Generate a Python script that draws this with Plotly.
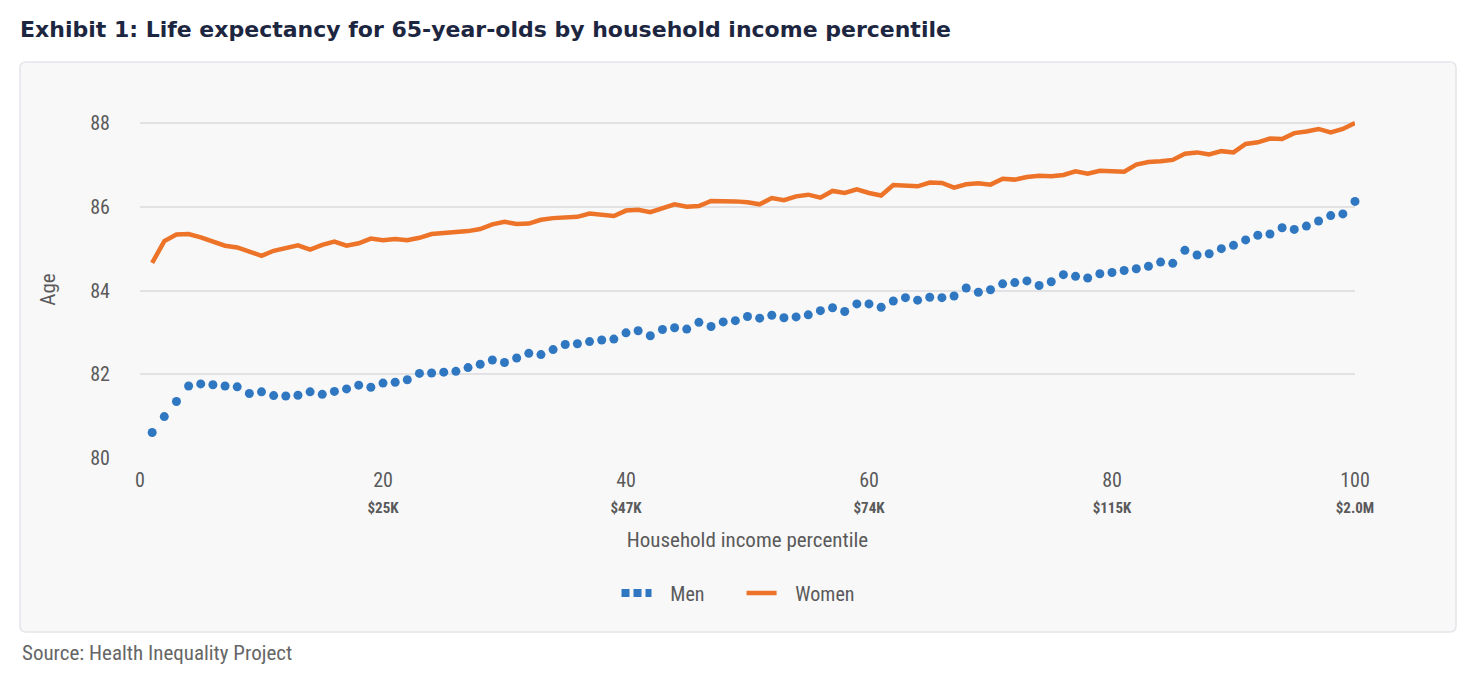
import plotly.graph_objects as go

# ---------------- data ----------------
percentile = list(range(1, 101))

men_age = [
    80.61, 80.99, 81.35, 81.72, 81.77, 81.75, 81.72, 81.70, 81.54, 81.58,
    81.49, 81.48, 81.50, 81.58, 81.52, 81.59, 81.65, 81.74, 81.69, 81.79,
    81.81, 81.87, 82.02, 82.03, 82.05, 82.07, 82.16, 82.24, 82.34, 82.28,
    82.39, 82.50, 82.47, 82.59, 82.71, 82.73, 82.78, 82.82, 82.84, 82.99,
    83.04, 82.92, 83.07, 83.11, 83.08, 83.24, 83.14, 83.25, 83.28, 83.38,
    83.34, 83.41, 83.35, 83.37, 83.42, 83.52, 83.59, 83.50, 83.68, 83.68,
    83.60, 83.75, 83.83, 83.77, 83.84, 83.83, 83.87, 84.06, 83.96, 84.02,
    84.16, 84.19, 84.23, 84.12, 84.21, 84.38, 84.34, 84.30, 84.40, 84.43,
    84.48, 84.52, 84.58, 84.68, 84.65, 84.96, 84.85, 84.88, 85.00, 85.08,
    85.21, 85.32, 85.35, 85.50, 85.46, 85.54, 85.66, 85.79, 85.83, 86.13,
]

women_age = [
    84.66, 85.18, 85.34, 85.35, 85.27, 85.17, 85.07, 85.03, 84.92, 84.83,
    84.95, 85.01, 85.08, 84.98, 85.09, 85.17, 85.07, 85.13, 85.24, 85.20,
    85.23, 85.20, 85.26, 85.35, 85.37, 85.39, 85.42, 85.47, 85.58, 85.64,
    85.59, 85.60, 85.69, 85.73, 85.75, 85.76, 85.84, 85.81, 85.78, 85.91,
    85.93, 85.87, 85.97, 86.06, 86.00, 86.02, 86.14, 86.14, 86.13, 86.11,
    86.06, 86.21, 86.16, 86.25, 86.29, 86.22, 86.38, 86.33, 86.42, 86.33,
    86.27, 86.52, 86.50, 86.49, 86.58, 86.57, 86.46, 86.54, 86.56, 86.53,
    86.67, 86.65, 86.71, 86.74, 86.73, 86.76, 86.85, 86.79, 86.86, 86.85,
    86.84, 87.01, 87.07, 87.09, 87.12, 87.27, 87.30, 87.25, 87.33, 87.30,
    87.50, 87.54, 87.63, 87.62, 87.76, 87.80, 87.86, 87.78, 87.86, 88.00,
]

x_tick_values = [0, 20, 40, 60, 80, 100]
x_tick_numbers = ["0", "20", "40", "60", "80", "100"]
x_tick_income = ["", "$25K", "$47K", "$74K", "$115K", "$2.0M"]
y_tick_values = [80, 82, 84, 86, 88]

# ---------------- styling ----------------
BLUE = "#2f77c1"
ORANGE = "#ec7327"
TEXT = "#5a5a5a"
COND = "Roboto Condensed, Liberation Sans Narrow, DejaVu Sans Condensed, Roboto, sans-serif"
NB = "\u00a0"

W, H = 1480, 678
ML, MR, MT, MB = 140, 125, 121, 220
PW, PH = W - ML - MR, H - MT - MB


def px_x(p):
    return (p - ML) / PW


def px_y(p):
    return (H - MB - p) / PH


tick_text = []
for num, inc in zip(x_tick_numbers, x_tick_income):
    if inc:
        tick_text.append(f"{num}<br><span style='font-size:15px'><b>{inc}</b></span>")
    else:
        tick_text.append(num)

fig = go.Figure()

fig.add_trace(go.Scatter(
    x=percentile, y=men_age, mode="markers", name="Men",
    marker=dict(color=BLUE, size=9, line=dict(width=0)),
    showlegend=False, legendgroup="men", cliponaxis=False,
))
fig.add_trace(go.Scatter(
    x=[None], y=[None], mode="lines", name=NB * 3 + "Men" + NB * 7,
    line=dict(color=BLUE, width=8, dash="8px,4px"),
    legendgroup="men",
))
fig.add_trace(go.Scatter(
    x=percentile, y=women_age, mode="lines", name=NB * 3 + "Women",
    line=dict(color=ORANGE, width=4.5),
    legendgroup="women",
))

# panel background (rounded rectangle)
x0, x1 = px_x(20), px_x(1456)
y0, y1 = px_y(632), px_y(62)
rx, ry = 6 / PW, 6 / PH
path = (
    f"M{x0+rx},{y0} L{x1-rx},{y0} Q{x1},{y0} {x1},{y0+ry} "
    f"L{x1},{y1-ry} Q{x1},{y1} {x1-rx},{y1} L{x0+rx},{y1} "
    f"Q{x0},{y1} {x0},{y1-ry} L{x0},{y0+ry} Q{x0},{y0} {x0+rx},{y0} Z"
)

fig.update_layout(
    width=W, height=H, autosize=False,
    margin=dict(l=ML, r=MR, t=MT, b=MB),
    paper_bgcolor="white",
    plot_bgcolor="rgba(0,0,0,0)",
    font=dict(family=COND, color=TEXT, size=20),
    title=dict(
        text="<b>Exhibit 1: Life expectancy for 65-year-olds by household income percentile</b>",
        font=dict(family="DejaVu Sans, sans-serif", size=22, color="#1d2640"),
        xref="container", yref="container", x=20 / W, xanchor="left",
        y=1 - 29 / H, yanchor="middle",
    ),
    shapes=[dict(
        type="path", path=path, xref="paper", yref="paper", layer="below",
        fillcolor="#f8f8f9", line=dict(color="#e3e5e9", width=1.5),
    )],
    xaxis=dict(
        range=[0, 100], tickmode="array", tickvals=x_tick_values, ticktext=tick_text,
        showgrid=False, zeroline=False, showline=False,
        ticks="outside", ticklen=4, tickcolor="rgba(0,0,0,0)",
        tickfont=dict(size=20, color=TEXT, family=COND),
        title=dict(text="Household income percentile", standoff=16,
                   font=dict(size=21, color=TEXT, family=COND)),
    ),
    yaxis=dict(
        range=[80, 88.05], tickmode="array", tickvals=y_tick_values,
        showgrid=True, gridcolor="#e2e2e4", gridwidth=1.5,
        zeroline=False, showline=False,
        ticks="outside", ticklen=25, tickcolor="rgba(0,0,0,0)",
        tickfont=dict(size=20, color=TEXT, family=COND),
        title=dict(text="Age", standoff=28,
                   font=dict(size=21, color=TEXT, family=COND)),
    ),
    legend=dict(
        orientation="h", x=px_x(738), xanchor="center",
        y=px_y(593), yanchor="middle",
        font=dict(size=20, color=TEXT, family=COND),
        bgcolor="rgba(0,0,0,0)", itemwidth=30, tracegroupgap=0,
    ),
    annotations=[dict(
        text="Source: Health Inequality Project", xref="paper", yref="paper",
        x=px_x(20), xanchor="left", y=px_y(653), yanchor="middle",
        showarrow=False, font=dict(size=21, color="#666666", family=COND),
    )],
)

fig.write_html("out.html")
